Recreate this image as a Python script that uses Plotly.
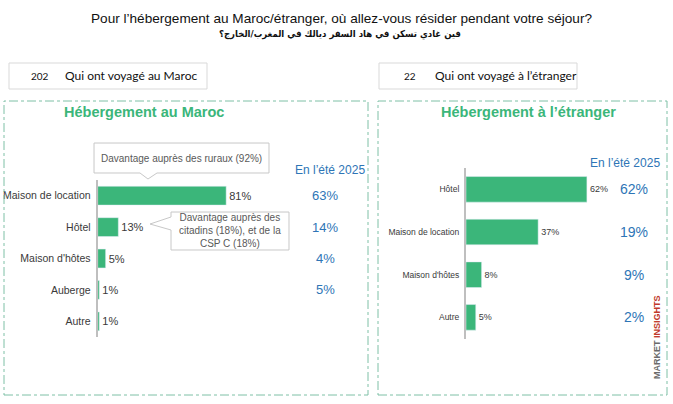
import plotly.graph_objects as go

W, H = 673, 404

# data
maroc_categories = ["Maison de location", "Hôtel", "Maison d'hôtes", "Auberge", "Autre"]
maroc_values = [81, 13, 5, 1, 1]
maroc_ete_2025 = ["63%", "14%", "4%", "5%", None]

etranger_categories = ["Hôtel", "Maison de location", "Maison d'hôtes", "Autre"]
etranger_values = [62, 37, 8, 5]
etranger_ete_2025 = ["62%", "19%", "9%", "2%"]

n_maroc = 202
n_etranger = 22

GREEN = "#3bb67a"
BLUE = "#2e75b6"
TEXT = "#3a3a3a"


def px(x):
    return x / W


def py(y):
    return 1 - y / H


def path(points):
    s = "M " + " L ".join(f"{px(x):.4f},{py(y):.4f}" for x, y in points)
    return s + " Z"


fig = go.Figure()

fig.add_trace(go.Bar(
    x=maroc_values, y=maroc_categories, orientation="h",
    marker_color=GREEN, width=0.6,
    text=[f"{v}%" for v in maroc_values], textposition="outside",
    textfont=dict(size=11, color=TEXT), cliponaxis=False,
    xaxis="x", yaxis="y", hoverinfo="skip",
))

fig.add_trace(go.Bar(
    x=etranger_values, y=etranger_categories, orientation="h",
    marker_color=GREEN, width=0.6,
    text=[f"{v}%" for v in etranger_values], textposition="outside",
    textfont=dict(size=9, color=TEXT), cliponaxis=False,
    xaxis="x2", yaxis="y2", hoverinfo="skip",
))

axis_common = dict(showgrid=False, zeroline=False, ticks="", fixedrange=True)

fig.update_layout(
    width=W, height=H,
    margin=dict(l=0, r=0, t=0, b=0),
    paper_bgcolor="white", plot_bgcolor="white",
    showlegend=False,
    font=dict(family="Arial, Liberation Sans, sans-serif", color=TEXT),
    xaxis=dict(domain=[px(97.7), px(97.7 + 158.6)], range=[0, 100],
               visible=False, **axis_common),
    yaxis=dict(domain=[py(337), py(180)], anchor="x",
               categoryorder="array", categoryarray=maroc_categories,
               autorange="reversed", showline=True, linecolor="#bfbfbf",
               linewidth=2, tickfont=dict(size=10.5, color=TEXT),
               ticklabelstandoff=3, **axis_common),
    xaxis2=dict(domain=[px(466), px(466 + 195)], range=[0, 100],
                visible=False, **axis_common),
    yaxis2=dict(domain=[py(338.7), py(168)], anchor="x2",
                categoryorder="array", categoryarray=etranger_categories,
                autorange="reversed", showline=True, linecolor="#bfbfbf",
                linewidth=2, tickfont=dict(size=8.5, color=TEXT),
                ticklabelstandoff=3, **axis_common),
)

shapes = []
# dashed panels
for x0, x1 in [(4, 368), (378, 667)]:
    shapes.append(dict(type="rect", xref="paper", yref="paper",
                       x0=px(x0), x1=px(x1), y0=py(395), y1=py(101),
                       line=dict(color="#7fc0a6", width=1, dash="dashdot")))
# sample boxes
for x0, x1 in [(9, 207), (379, 577)]:
    shapes.append(dict(type="rect", xref="paper", yref="paper",
                       x0=px(x0), x1=px(x1), y0=py(89), y1=py(63),
                       line=dict(color="#d9d9d9", width=1)))
# callout bubbles
shapes.append(dict(type="path", xref="paper", yref="paper",
                   path=path([(94, 143), (269, 143), (269, 173), (157, 173),
                              (148, 179), (140, 173), (94, 173)]),
                   fillcolor="white", line=dict(color="#c8c8c8", width=1)))
shapes.append(dict(type="path", xref="paper", yref="paper",
                   path=path([(171, 212), (289, 212), (289, 250), (171, 250),
                              (171, 230), (150, 224), (171, 217)]),
                   fillcolor="white", line=dict(color="#c8c8c8", width=1)))
fig.update_layout(shapes=shapes)

ann = []


def note(x, y, text, size, color=TEXT, xanchor="center", **kw):
    ann.append(dict(xref="paper", yref="paper", x=px(x), y=py(y), text=text,
                    showarrow=False, xanchor=xanchor, yanchor="middle",
                    font=dict(size=size, color=color, **kw.pop("font", {})), **kw))


note(341, 18, "Pour l’hébergement au Maroc/étranger, où allez-vous résider pendant votre séjour?",
     13.6, "#111")
note(340, 34, "<b>فين غادي تسكن في هاد السفر ديالك في المغرب/الخارج؟</b>", 9.5, "#111",
     font=dict(family="DejaVu Sans Condensed, DejaVu Sans, sans-serif"))

note(40, 76, str(n_maroc), 10, "#111", font=dict(family="Lato, sans-serif"))
note(63, 76, "Qui ont voyagé au Maroc", 12, "#111", xanchor="left",
     font=dict(family="Lato, sans-serif"))
note(410, 76, str(n_etranger), 10, "#111", font=dict(family="Lato, sans-serif"))
note(433, 76, "Qui ont voyagé à l’étranger", 12, "#111", xanchor="left",
     font=dict(family="Lato, sans-serif"))

note(144, 112, "<b>Hébergement au Maroc</b>", 14.5, GREEN)
note(528, 112, "<b>Hébergement à l’étranger</b>", 14.5, GREEN)

note(181, 158, "Davantage auprès des ruraux (92%)", 10, "#595959")
note(230, 231, "Davantage auprès des<br>citadins (18%), et de la<br>CSP C (18%)", 10, "#595959")

note(330, 170, "En l’été 2025", 12, BLUE)
note(625, 163, "En l’été 2025", 12, BLUE)

for cat, val in zip(maroc_categories, maroc_ete_2025):
    if val:
        ann.append(dict(xref="paper", yref="y", x=px(325), y=cat, text=val,
                        xanchor="center", showarrow=False,
                        font=dict(size=13, color=BLUE)))
for cat, val in zip(etranger_categories, etranger_ete_2025):
    ann.append(dict(xref="paper", yref="y2", x=px(634), y=cat, text=val,
                    xanchor="center", showarrow=False,
                    font=dict(size=14, color=BLUE)))

note(657, 337, "<b>MARKET <span style='color:#c0392b'>INSIGHTS</span></b>", 9,
     "#6b6b6b", textangle=-90)

fig.update_layout(annotations=ann)

# drop the default 8px page margin so the figure fills the window
fig.write_html("out.html", config={"displayModeBar": False},
               post_script="document.body.style.margin = '0';")
